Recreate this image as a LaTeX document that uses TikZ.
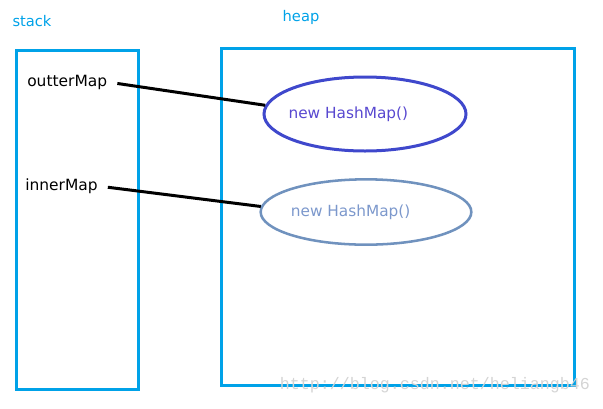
\documentclass[tikz,border=0pt]{standalone}
\usepackage{fontspec}
\setmainfont{DejaVu Sans}
\newfontfamily\markfont{Liberation Mono}
\usetikzlibrary{shapes.geometric}
\definecolor{boxcyan}{RGB}{0,162,232}
\definecolor{objblue}{RGB}{63,72,204}
\definecolor{objtext}{RGB}{88,72,208}
\definecolor{objsteel}{RGB}{112,146,190}
\definecolor{steeltext}{RGB}{124,152,204}
\begin{document}
\begin{tikzpicture}[
		x=0.75pt, y=-0.75pt,
		area/.style={draw=boxcyan, line width=2.25pt},
		title/.style={text=boxcyan, font=\fontsize{11}{13}\selectfont},
		ref/.style={inner sep=0pt, font=\fontsize{11.6}{14}\selectfont},
		obj/.style={ellipse, draw, inner sep=0pt},
		link/.style={line width=2.25pt, shorten <=7.5pt}
	]
	\useasboundingbox (0,0) rectangle (603,408);

	\node[title] (stacklabel) at (32,21) {stack};
	\node[title] (heaplabel) at (301,17) {heap};
	\draw[area] (16,50) rectangle (138,389);
	\draw[area] (221,48) rectangle (574,385);

	\node[ref, anchor=west] (outter) at (27,82) {outterMap};
	\node[ref, anchor=west] (inner) at (25,186) {innerMap};

	\node[obj, draw=objblue, line width=2.25pt, minimum width=151.5pt, minimum height=55.5pt,
		label={[text=objtext, xshift=-12.5pt, font=\fontsize{11.5}{13}\selectfont]center:new HashMap()}]
		(outterobj) at (365,114) {};
	\node[obj, draw=objsteel, line width=1.9pt, minimum width=158pt, minimum height=49pt,
		label={[text=steeltext, xshift=-11.5pt, font=\fontsize{11.5}{13}\selectfont]center:new HashMap()}]
		(innerobj) at (366,212) {};

	\draw[link] (outter.east) -- (outterobj.175);
	\draw[link] (inner.east) -- (innerobj.177);

	\node[text=black!17, font=\markfont\fontsize{12.5}{14}\selectfont] (mark) at (435,385) {http://blog.csdn.net/heliangb46};
\end{tikzpicture}
\end{document}
